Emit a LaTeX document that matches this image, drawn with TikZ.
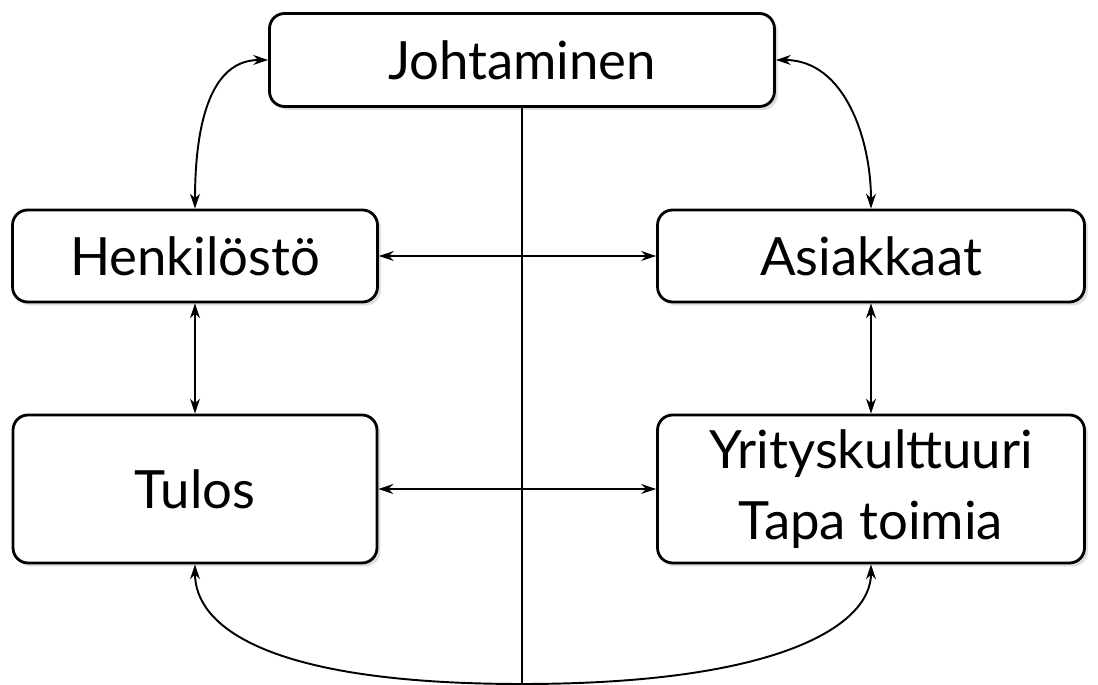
\documentclass[tikz,border=0pt]{standalone}
\usepackage{fontspec}
\setmainfont{Lato}
\usepackage{tikz}
\usetikzlibrary{arrows.meta}
\usetikzlibrary{shadows}

\begin{document}
\begin{tikzpicture}[x=0.02cm, y=0.02cm,
    box/.style={draw, line width=1.6pt, rounded corners=0.3cm, fill=white, align=center,
        font=\fontsize{30}{40}\selectfont,
        drop shadow={opacity=0.25, shadow xshift=0.07cm, shadow yshift=-0.07cm}},
    link/.style={{Stealth[length=3mm, width=2mm]}-{Stealth[length=3mm, width=2mm]}, line width=1.1pt}]
    \useasboundingbox (0,0) rectangle (1098,685);
    % Draw the boxes
    \node[box, minimum width=10.1cm, minimum height=1.86cm] (joht) at (522,625) {Johtaminen};
    \node[box, minimum width=7.3cm, minimum height=1.84cm] (henk) at (195,429) {Henkilöstö};
    \node[box, minimum width=8.54cm, minimum height=1.84cm] (asia) at (871,429) {Asiakkaat};
    \node[box, minimum width=7.28cm, minimum height=2.96cm] (tulos) at (195,196) {Tulos};
    \node[box, minimum width=8.54cm, minimum height=2.96cm] (yrit) at (871,196) {Yrityskulttuuri\\Tapa toimia};
    \coordinate (pohja) at (522,1);
    % Draw the centre line
    \draw[line width=1.1pt] (joht.south) -- (pohja);
    % Draw the links
    \draw[link] (joht.west) to[out=180, in=90] (henk.north);
    \draw[link] (joht.east) to[out=0, in=90] (asia.north);
    \draw[link] (henk.east) -- (asia.west);
    \draw[link] (tulos.east) -- (yrit.west);
    \draw[link] (henk.south) -- (tulos.north);
    \draw[link] (asia.south) -- (yrit.north);
    % Draw the bottom loop
    \draw[link] (tulos.south) .. controls +(0,-60) and +(-260,0) .. (pohja)
        .. controls +(260,0) and +(0,-60) .. (yrit.south);
\end{tikzpicture}
\end{document}
